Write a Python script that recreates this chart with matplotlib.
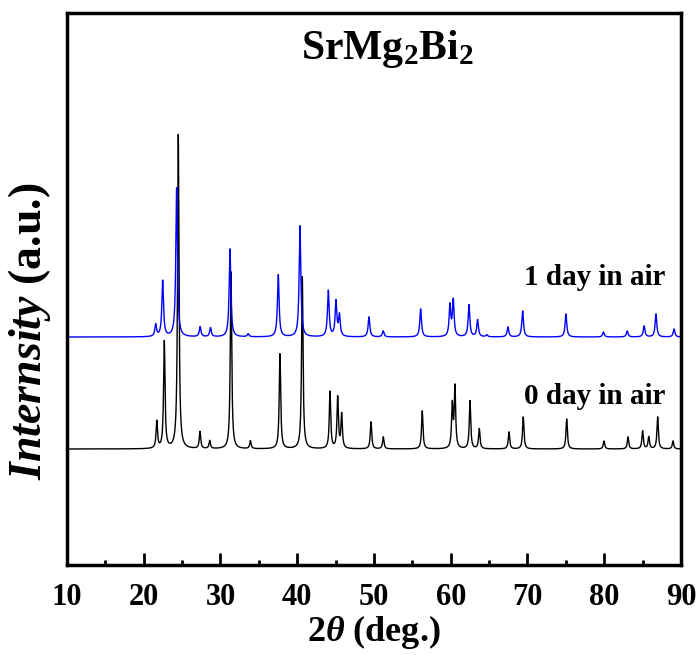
import numpy as np
import matplotlib
matplotlib.use('Agg')
import matplotlib.pyplot as plt

## Données (2theta en degrés, intensité en u.a.) ##
# 0 day in air (noir)
pics_0 = [21.70, 22.68, 24.50, 27.33, 28.60, 31.37, 33.90, 37.75, 40.66, 44.27, 45.27, 45.79,
          49.61, 51.21, 56.29, 60.20, 60.55, 62.51, 63.72, 67.59, 69.45, 75.11, 79.97, 83.10,
          85.00, 85.80, 86.96, 88.96]
haut_0 = [27, 107, 314, 17, 8, 177, 8, 95, 172, 57, 51, 34,
          27, 12, 38, 43, 61, 48, 20, 17, 32, 30, 8, 12,
          18, 12, 32, 8]
fond_0 = 116

# 1 day in air (bleu)
pics_1 = [21.56, 22.47, 24.29, 27.35, 28.70, 31.24, 33.60, 37.53, 40.36, 44.05, 45.05, 45.50,
          49.35, 51.20, 56.08, 59.90, 60.33, 62.38, 63.50, 64.70, 67.45, 69.37, 75.01, 79.90,
          83.00, 85.20, 86.74, 89.10]
haut_1 = [12, 56, 149, 10, 9, 88, 3, 62, 111, 46, 35, 21,
          20, 6, 28, 31, 36, 32, 17, 2, 10, 26, 23, 5,
          6, 11, 23, 8]
fond_1 = 228

ticks_x = [10, 20, 30, 40, 50, 60, 70, 80, 90]

## Profil des raies (lorentzienne) ##
T = np.arange(10, 90.001, 0.01)

def profil(pics, haut, fond, largeur):
    y = np.full_like(T, float(fond))
    for p, h in zip(pics, haut):
        y += h / (1 + ((T - p) / (largeur / 2)) ** 2)
    return y

Y0 = profil(pics_0, haut_0, fond_0, 0.22)
Y1 = profil(pics_1, haut_1, fond_1, 0.26)

## Style ##
plt.rcParams['font.family'] = 'Liberation Serif'
plt.rcParams['font.weight'] = 'bold'
plt.rcParams['axes.labelweight'] = 'bold'
plt.rcParams['mathtext.fontset'] = 'custom'
plt.rcParams['mathtext.rm'] = 'Liberation Serif:bold'
plt.rcParams['mathtext.bf'] = 'Liberation Serif:bold'
plt.rcParams['mathtext.it'] = 'Liberation Serif:italic:bold'

fig = plt.figure(figsize=(6.97, 6.55), dpi=100)
ax = fig.add_axes([0.0961, 0.1374, 0.8809, 0.8427])

ax.plot(T, Y0, color='black', lw=1.0)
ax.plot(T, Y1, color='blue', lw=1.0)

ax.set_xlim(10, 90)
ax.set_ylim(0, 552)
ax.set_xticks(ticks_x)
ax.set_xticks(np.arange(15, 90, 10), minor=True)
ax.set_yticks([])
ax.tick_params(axis='x', which='major', direction='in', length=8.5, width=2, pad=13, labelsize=22)
ax.tick_params(axis='x', which='minor', direction='in', length=3.5, width=2)
for s in ax.spines.values():
    s.set_linewidth(2.5)

ax.set_xlabel(r'2$\mathit{\theta}$ (deg.)', fontsize=26, fontweight='bold', labelpad=1)
ax.set_ylabel(r'$\mathit{Internsity}$ (a.u.)', fontsize=33, fontweight='bold')
ax.yaxis.set_label_coords(-0.022, 0.423)

ax.text(0.521, 0.916, r'$\mathbf{SrMg_2Bi_2}$', transform=ax.transAxes, fontsize=30, ha='center', va='baseline')
ax.text(0.974, 0.521, '1 day in air', transform=ax.transAxes, fontsize=21, ha='right', va='center')
ax.text(0.974, 0.305, '0 day in air', transform=ax.transAxes, fontsize=21, ha='right', va='center')

plt.savefig('out.png', dpi=100)
